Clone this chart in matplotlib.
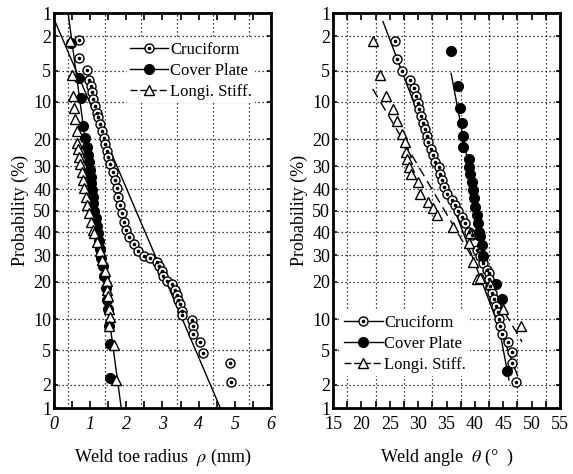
import numpy as np
import matplotlib
matplotlib.use("Agg")
import matplotlib.pyplot as plt
from matplotlib.lines import Line2D
from statistics import NormalDist

plt.rcParams['font.family'] = ['Liberation Serif', 'DejaVu Serif']
plt.rcParams['mathtext.fontset'] = 'stix'

# cumulative probability (%) axis ticks and their labels
prob_ticks = [1, 2, 5, 10, 20, 30, 40, 50, 60, 70, 80, 90, 95, 98, 99]
prob_labels = ['1', '2', '5', '10', '20', '30', '40', '50', '40', '30', '20', '10', '5', '2', '1']

# ---- left: weld toe radius (mm) ----
rho_cru = [0.69, 0.70, 0.90, 0.98, 1.01, 1.05, 1.09, 1.13, 1.18, 1.23, 1.27, 1.32, 1.37, 1.41,
           1.46, 1.50, 1.55, 1.62, 1.69, 1.74, 1.78, 1.83, 1.88, 1.94, 2.00, 2.08, 2.20, 2.33,
           2.50, 2.65, 2.84, 2.91, 2.98, 3.02, 3.12, 3.25, 3.35, 3.39, 3.44, 3.48, 3.53, 3.53,
           3.81, 3.84, 3.85, 4.04, 4.11, 4.87, 4.89]
p_rho_cru = [2.2, 3.6, 4.9, 6.2, 7.1, 8.2, 9.5, 10.9, 12.5, 13.6, 15.4, 17.4, 19.5, 21.6,
             24.0, 26.4, 29.1, 32.6, 35.9, 39.7, 43.6, 47.5, 51.2, 55.2, 59.1, 62.2, 65.5, 68.4,
             70.2, 71.2, 72.6, 74.5, 76.1, 77.9, 79.7, 80.8, 82.4, 83.9, 85.3, 86.4, 88.1, 89.1,
             90.2, 91.3, 92.7, 93.9, 95.3, 96.4, 97.8]
rho_cov = [0.47, 0.69, 0.75, 0.81, 0.86, 0.92, 0.94, 0.97, 0.99, 1.01, 1.03, 1.05, 1.07, 1.09,
           1.12, 1.15, 1.18, 1.21, 1.24, 1.27, 1.31, 1.35, 1.38, 1.44, 1.47, 1.50, 1.53, 1.55, 1.55]
p_rho_cov = [2.4, 5.9, 9.2, 16.0, 19.5, 22.8, 25.5, 28.5, 31.5, 34.5, 37.5, 40.5, 43.5, 46.5,
             50.0, 53.5, 57.0, 60.5, 64.0, 67.5, 71.0, 74.5, 78.0, 82.0, 85.3, 87.7, 91.3, 94.2, 97.6]
rho_lon = [0.45, 0.49, 0.52, 0.55, 0.58, 0.63, 0.64, 0.67, 0.70, 0.72, 0.77, 0.79, 0.83, 0.88,
           0.92, 0.98, 1.01, 1.07, 1.11, 1.20, 1.26, 1.33, 1.41, 1.46, 1.47, 1.50, 1.53, 1.55,
           1.53, 1.65, 1.72]
p_rho_lon = [2.3, 5.5, 8.9, 11.3, 14.0, 17.4, 21.2, 23.3, 26.5, 29.1, 32.6, 36.0, 39.7, 43.6,
             47.5, 51.2, 55.2, 59.1, 60.6, 64.5, 68.5, 72.0, 76.1, 79.7, 82.4, 84.4, 87.7, 89.6,
             91.3, 94.4, 97.7]
# fitted lines (end points)
fit_rho_cru = ([0.0, 4.6], [1.2, 99.0])
fit_rho_cov = ([0.39, 1.86], [1.0, 99.0])

# ---- right: weld angle (deg) ----
th_cru = [25.9, 26.3, 27.2, 28.6, 29.3, 29.7, 30.0, 30.2, 30.5, 30.8, 31.2, 31.5, 31.8, 32.2,
          32.6, 33.0, 33.6, 33.9, 34.2, 34.6, 35.0, 35.9, 36.5, 37.1, 37.7, 38.3, 38.9, 39.4,
          40.3, 40.9, 41.5, 42.1, 42.5, 42.5, 42.7, 43.0, 43.4, 43.8, 44.1, 44.3, 44.5, 44.7,
          45.9, 46.5, 46.5, 47.2]
p_th_cru = [2.3, 3.7, 5.0, 6.2, 7.5, 8.9, 10.2, 11.7, 13.2, 15.0, 16.8, 18.9, 21.1, 23.4,
            25.8, 28.4, 30.5, 33.2, 36.0, 39.0, 42.1, 45.1, 47.4, 50.0, 52.9, 56.0, 59.8, 61.3,
            67.7, 70.5, 73.1, 75.7, 76.8, 79.1, 81.3, 83.3, 85.2, 86.9, 88.5, 90.0, 91.3, 92.7,
            93.9, 95.2, 96.4, 97.8]
th_cov = [35.8, 37.1, 37.4, 37.7, 37.9, 37.9, 38.9, 39.0, 39.2, 39.4, 39.6, 39.8, 40.0, 40.3,
          40.6, 40.8, 40.9, 41.2, 41.5, 43.7, 44.7, 45.6]
p_th_cov = [3.0, 7.1, 11.3, 15.0, 18.9, 22.8, 27.1, 30.5, 33.2, 36.7, 40.5, 44.3, 48.2, 52.1,
            56.0, 59.8, 62.0, 65.6, 70.5, 80.8, 85.2, 97.1]
th_lon = [22.1, 23.2, 24.3, 25.5, 26.2, 27.1, 27.7, 27.9, 28.0, 28.3, 28.7, 30.0, 30.3, 31.8,
          32.6, 33.3, 36.2, 39.2, 38.9, 39.7, 40.3, 40.9, 42.7, 45.0, 48.2]
p_th_lon = [2.3, 5.5, 8.9, 11.7, 14.5, 18.4, 21.1, 24.6, 27.1, 30.5, 33.2, 36.7, 42.1, 46.0,
            49.0, 52.1, 57.5, 60.5, 64.8, 72.8, 79.1, 78.5, 80.8, 87.7, 91.3]
fit_th_cru = ([23.8, 47.5], [1.3, 97.4])
fit_th_cov = ([35.8, 46.0], [5.3, 97.7])
fit_th_lon = ([22.0, 48.3], [7.6, 93.9])


def z(p):
    return np.array([NormalDist().inv_cdf(v / 100.0) for v in p])


def cruciform(ax, x, p):
    ax.plot(x, z(p), 'o', ms=6.5, mfc='white', mec='black', mew=1.0, zorder=4)
    ax.plot(x, z(p), 'o', ms=1.6, color='black', zorder=5)


def setup(ax, xlim, xticks, minor, grid_x):
    ax.set_xlim(*xlim)
    ax.set_ylim(z([99])[0], z([1])[0])
    ax.set_yticks(z(prob_ticks))
    ax.set_yticklabels(prob_labels)
    ax.set_xticks(xticks)
    ax.set_xticks(minor, minor=True)
    ax.tick_params(axis='both', which='both', direction='in', top=True, right=True,
                   labelsize=13, width=1.2, pad=2)
    ax.tick_params(axis='x', which='both', length=5, pad=6)
    ax.tick_params(axis='y', length=3)
    for g in z(prob_ticks[1:-1]):
        ax.axhline(g, color='black', lw=0.9, ls=(0, (1, 2.2)), zorder=1)
    for g in grid_x:
        ax.axvline(g, color='black', lw=0.9, ls=(0, (1, 2.2)), zorder=1)
    for s in ax.spines.values():
        s.set_linewidth(2)
    ax.set_ylabel('Probability (%)', fontsize=13, labelpad=3)


fig = plt.figure(figsize=(5.73, 4.74), dpi=100)
ax1 = fig.add_axes([0.0942, 0.1392, 0.3787, 0.8333])
ax2 = fig.add_axes([0.5812, 0.1392, 0.3962, 0.8333])

# left panel
setup(ax1, (0, 6), np.arange(0, 7, 1), np.arange(0, 6.01, 0.5), np.arange(0.4, 6, 1))
ax1.plot(fit_rho_cru[0], z(fit_rho_cru[1]), color='black', lw=1.0, zorder=3)
ax1.plot(fit_rho_cov[0], z(fit_rho_cov[1]), color='black', lw=1.0, zorder=3)
cruciform(ax1, rho_cru, p_rho_cru)
ax1.plot(rho_cov, z(p_rho_cov), 'o', ms=7, color='black', zorder=4)
ax1.plot(rho_lon, z(p_rho_lon), '^', ms=6.5, mfc='white', mec='black', mew=1.0, zorder=4)
for lab in ax1.get_xticklabels():
    lab.set_fontstyle('italic')
ax1.set_xlabel(r'Weld toe radius  $\rho$ (mm)', fontsize=13, labelpad=10)

# right panel
setup(ax2, (15, 55), np.arange(15, 56, 5), np.arange(15, 55.1, 2.5), np.arange(17.5, 55, 5))
ax2.plot(fit_th_cru[0], z(fit_th_cru[1]), color='black', lw=1.0, zorder=3)
ax2.plot(fit_th_cov[0], z(fit_th_cov[1]), color='black', lw=1.0, zorder=3)
ax2.plot(fit_th_lon[0], z(fit_th_lon[1]), color='black', lw=1.0, ls=(0, (7, 4)), zorder=3)
cruciform(ax2, th_cru, p_th_cru)
ax2.plot(th_cov, z(p_th_cov), 'o', ms=7, color='black', zorder=4)
ax2.plot(th_lon, z(p_th_lon), '^', ms=6.5, mfc='white', mec='black', mew=1.0, zorder=4)
ax2.set_xlabel(r'Weld angle  $\theta$ (°  )', fontsize=13, labelpad=10)

# legends
h_cru = (Line2D([], [], color='black', lw=1.0, marker='o', ms=6.5, mfc='white', mec='black'),
         Line2D([], [], ls='none', marker='o', ms=1.6, color='black'))
h_cov = Line2D([], [], color='black', lw=1.0, marker='o', ms=7)
h_lon = Line2D([], [], color='black', lw=1.0, ls=(0, (5, 2)), marker='^', ms=6.5, mfc='white', mec='black')
names = ['Cruciform', 'Cover Plate', 'Longi. Stiff.']
for ax, anchor in [(ax1, (0.335, 0.935)), (ax2, (0.035, 0.245))]:
    leg = ax.legend([h_cru, h_cov, h_lon], names, loc='upper left', bbox_to_anchor=anchor,
                    fontsize=12, handlelength=2.3, handletextpad=0.1, labelspacing=0.3,
                    borderpad=0.2, borderaxespad=0.0, frameon=True, fancybox=False)
    leg.get_frame().set_edgecolor('none')
    leg.get_frame().set_alpha(1)
    leg.set_zorder(6)

fig.savefig('out.png', dpi=100)
